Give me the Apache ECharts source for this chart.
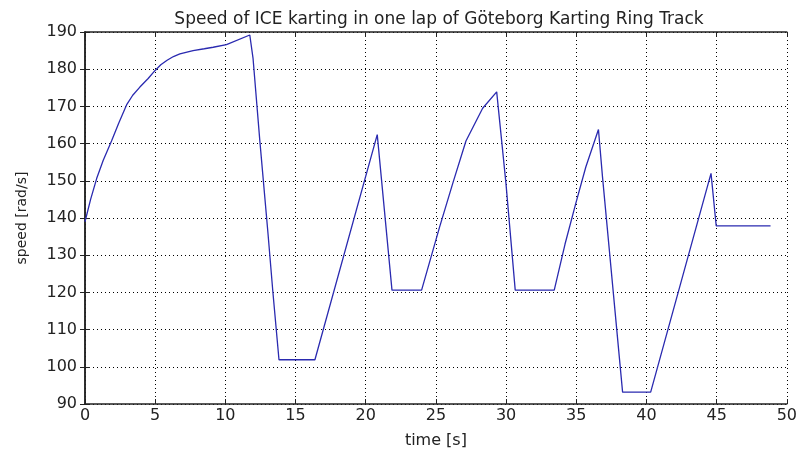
<!DOCTYPE html>
<html>
<head>
<meta charset="utf-8">
<script src="https://cdn.jsdelivr.net/npm/echarts@6/dist/echarts.min.js"></script>
<style>
  html, body { margin: 0; padding: 0; background: #fff; }
  #chart { width: 800px; height: 454px; }
</style>
</head>
<body>
<div id="chart"></div>
<script>
// time [s] and speed [rad/s]
var timeS = [0, 0.4, 0.83, 1.3, 1.89, 2.4, 2.96, 3.4, 3.91, 4.5, 4.98, 5.4, 5.85, 6.3, 6.76, 7.7, 8.5, 9.13, 10.08, 11.74,
  11.97, 12.45, 13.04, 13.39, 13.82, 16.38, 20.82, 21.87, 23.98, 25.25, 26.2, 27.14, 28.33, 29.33,
  29.99, 30.65, 33.43, 34.2, 34.97, 35.68, 36.58, 36.87, 38.3, 40.3, 44.6, 44.97, 48.84];
var speed = [139, 145, 150.6, 155.5, 160.7, 165.5, 170.4, 173, 175.2, 177.5, 179.6, 181.2, 182.4, 183.4, 184.1, 185, 185.5, 185.9, 186.6, 189.2,
  183, 161, 135.7, 119.9, 101.9, 101.9, 162.4, 120.6, 120.6, 137.4, 149.3, 160.7, 169.5, 173.9,
  149.3, 120.6, 120.6, 133, 144, 153.7, 163.8, 151, 93.2, 93.2, 152, 137.9, 137.9];

var titleText = "Speed of ICE karting in one lap of G\u00f6teborg Karting Ring Track";
var xName = "time [s]";
var yName = "speed [rad/s]";

var font = "'DejaVu Sans', Verdana, sans-serif";
var axisColor = "#222";

var points = timeS.map(function (t, i) { return [t, speed[i]]; });

var myChart = echarts.init(document.getElementById("chart"));

var option = {
  animation: false,
  backgroundColor: "#fff",
  title: {
    text: titleText,
    left: 434,
    top: 6,
    textAlign: "center",
    textStyle: { fontFamily: font, fontSize: 17, fontWeight: "normal", color: "#222" }
  },
  grid: { left: 85, right: 12, top: 32, bottom: 43 },
  xAxis: [
    {
      type: "value",
      min: 0,
      max: 50,
      interval: 5,
      name: xName,
      nameLocation: "middle",
      nameGap: 29,
      nameTextStyle: { fontFamily: font, fontSize: 16, color: "#222" },
      axisLine: { lineStyle: { color: axisColor, width: 1.5 } },
      axisTick: { inside: true, length: 5, lineStyle: { color: axisColor } },
      axisLabel: { fontFamily: font, fontSize: 16, color: "#222", margin: 4 },
      splitLine: { show: true, lineStyle: { color: "#000", type: [1, 3], width: 1 } }
    },
    {
      type: "value",
      position: "top",
      min: 0,
      max: 50,
      interval: 5,
      axisLine: { show: true, lineStyle: { color: axisColor, width: 1.5 } },
      axisTick: { show: true, inside: true, length: 5, lineStyle: { color: axisColor } },
      axisLabel: { show: false },
      splitLine: { show: false }
    }
  ],
  yAxis: [
    {
      type: "value",
      min: 90,
      max: 190,
      interval: 10,
      name: yName,
      nameLocation: "middle",
      nameGap: 56,
      nameRotate: 90,
      nameTextStyle: { fontFamily: font, fontSize: 14, color: "#222" },
      axisLine: { show: true, lineStyle: { color: axisColor, width: 1.5 } },
      axisTick: { show: true, inside: true, length: 5, lineStyle: { color: axisColor } },
      axisLabel: { fontFamily: font, fontSize: 16, color: "#222", margin: 8 },
      splitLine: { show: true, lineStyle: { color: "#000", type: [1, 3], width: 1 } }
    },
    {
      type: "value",
      position: "right",
      min: 90,
      max: 190,
      interval: 10,
      axisLine: { show: true, lineStyle: { color: axisColor, width: 1.5 } },
      axisTick: { show: true, inside: true, length: 5, lineStyle: { color: axisColor } },
      axisLabel: { show: false },
      splitLine: { show: false }
    }
  ],
  series: [
    {
      name: "speed",
      type: "line",
      data: points,
      showSymbol: false,
      smooth: false,
      lineStyle: { color: "#2a2ab0", width: 1.3 },
      itemStyle: { color: "#2a2ab0" }
    }
  ]
};
myChart.setOption(option, true);
</script>
</body>
</html>
